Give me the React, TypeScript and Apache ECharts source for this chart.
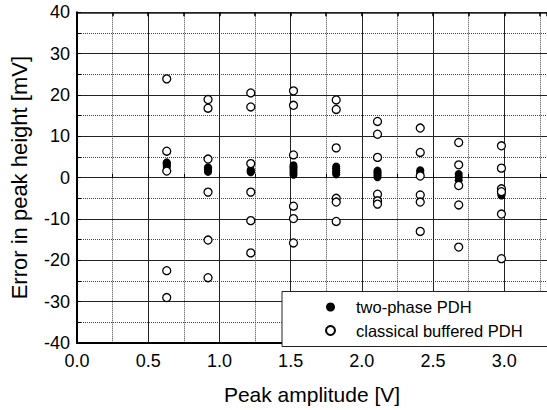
import React, { useEffect, useRef } from "react";
import * as echarts from "echarts";

const amplitudes = [0.63, 0.92, 1.22, 1.52, 1.82, 2.11, 2.41, 2.68, 2.98];

const twoPhaseErrors = [
  [2.6, 2.9, 3.2, 3.5, 3.7],
  [1.4, 1.7, 2.0, 2.3, 2.5],
  [1.3, 1.5, 1.7, 1.9],
  [0.7, 1.2, 1.7, 2.2, 2.6, 3.0],
  [0.8, 1.3, 1.8, 2.3, 2.7],
  [0.1, 0.5, 0.9, 1.3, 1.7],
  [1.0, 1.4, 1.8],
  [0.9, 0.2, -0.6],
  [-3.6, -4.0, -4.3],
];

const classicalErrors = [
  [23.9, 6.4, 1.6, -22.5, -29.0],
  [18.9, 16.8, 4.5, -3.5, -15.1, -24.2],
  [20.5, 17.1, 3.4, -3.5, -10.4, -18.2],
  [21.0, 17.5, 5.5, -6.9, -9.9, -15.8],
  [18.8, 16.5, 7.2, -5.0, -5.9, -10.6],
  [13.6, 10.5, 4.9, -4.0, -5.6, -6.4],
  [12.0, 6.1, 0.4, -4.2, -5.9, -13.0],
  [8.5, 3.1, -1.9, -6.6, -16.8],
  [7.7, 2.3, -2.7, -3.4, -8.8, -19.6],
];

const seriesNames = ["two-phase PDH", "classical buffered PDH"];
const xAxisTitle = "Peak amplitude [V]";
const yAxisTitle = "Error in peak height [mV]";

function toPairs(cols: number[][]) {
  const out: number[][] = [];
  cols.forEach((vals, i) => vals.forEach((v) => out.push([amplitudes[i], v])));
  return out;
}

const FONT = "Liberation Sans, Arial, sans-serif";

export default function App() {
  const ref = useRef<HTMLDivElement>(null);
  useEffect(() => {
    if (!ref.current) return;
    const chart = echarts.init(ref.current, undefined, { renderer: "svg" });
    const xMin = 0, xMax = 3.3, yMin = -40, yMax = 40;
    const dotted = { color: "#444", width: 1, type: [1, 1] as any };
    const solid = { color: "#222", width: 1, type: "solid" as any };
    chart.setOption({
      animation: false,
      backgroundColor: "#fff",
      textStyle: { fontFamily: FONT },
      grid: { left: 74, top: 12.3, width: 476.2, height: 333.7, containLabel: false },
      xAxis: [
        {
          type: "value", min: xMin, max: xMax, interval: 0.25, position: "bottom",
          axisLine: { show: false }, axisLabel: { show: false },
          axisTick: { show: true, inside: true, length: 4, lineStyle: { color: "#000", width: 1 } },
          splitLine: { show: true, lineStyle: dotted },
        },
        {
          type: "value", min: xMin, max: xMax, interval: 0.5, position: "bottom",
          axisLine: { show: true, onZero: false, lineStyle: { color: "#000", width: 2 } },
          axisTick: { show: false },
          splitLine: { show: true, lineStyle: solid },
          axisLabel: {
            show: true, showMaxLabel: false, margin: 9, fontSize: 18, color: "#000", fontFamily: FONT,
            formatter: (v: number) => v.toFixed(1),
          },
          name: xAxisTitle, nameLocation: "middle", nameGap: 41,
          nameTextStyle: { fontSize: 21, color: "#000", fontFamily: FONT },
        },
        {
          type: "value", min: xMin, max: xMax, interval: 0.25, position: "top",
          axisLine: { show: true, onZero: false, lineStyle: { color: "#222", width: 1.5 } },
          axisTick: { show: true, inside: true, length: 4, lineStyle: { color: "#000", width: 1.5 } },
          axisLabel: { show: false }, splitLine: { show: false },
        },
      ],
      yAxis: [
        {
          type: "value", min: yMin, max: yMax, interval: 5, position: "left",
          axisLine: { show: false }, axisLabel: { show: false },
          axisTick: { show: true, inside: true, length: 4, lineStyle: { color: "#000", width: 1 } },
          splitLine: { show: true, lineStyle: dotted },
        },
        {
          type: "value", min: yMin, max: yMax, interval: 10, position: "left",
          axisLine: { show: true, onZero: false, lineStyle: { color: "#000", width: 2 } },
          axisTick: { show: false },
          splitLine: { show: true, lineStyle: solid },
          axisLabel: { show: true, margin: 7, fontSize: 18, color: "#000", fontFamily: FONT },
          name: yAxisTitle, nameLocation: "middle", nameGap: 47, nameRotate: 90,
          nameTextStyle: { fontSize: 22, color: "#000", fontFamily: FONT },
        },
      ],
      legend: {
        show: true, orient: "vertical", left: 282, top: 291.5,
        padding: [7, 40, 7.5, 43], itemGap: 6.5, itemWidth: 9, itemHeight: 9,
        backgroundColor: "#fff", borderColor: "#222", borderWidth: 1,
        textStyle: { fontSize: 16.5, color: "#000", fontFamily: FONT, lineHeight: 16, padding: [0, 0, 0, 16] },
        data: [
          { name: seriesNames[0], icon: "circle" },
          { name: seriesNames[1], icon: "circle" },
        ],
      },
      series: [
        {
          name: seriesNames[0], type: "scatter", xAxisIndex: 1, yAxisIndex: 1,
          symbol: "circle", symbolSize: 8,
          itemStyle: { color: "#000", borderColor: "#000", borderWidth: 0, opacity: 1 },
          data: toPairs(twoPhaseErrors),
        },
        {
          name: seriesNames[1], type: "scatter", xAxisIndex: 1, yAxisIndex: 1,
          symbol: "circle", symbolSize: 8,
          itemStyle: { color: "#fff", borderColor: "#000", borderWidth: 1.3, opacity: 1 },
          data: toPairs(classicalErrors),
        },
      ],
    });
    return () => chart.dispose();
  }, []);
  return (
    <div
      ref={ref}
      style={{ position: "absolute", left: 0, top: 0, width: 547, height: 410, background: "#fff" }}
    />
  );
}
